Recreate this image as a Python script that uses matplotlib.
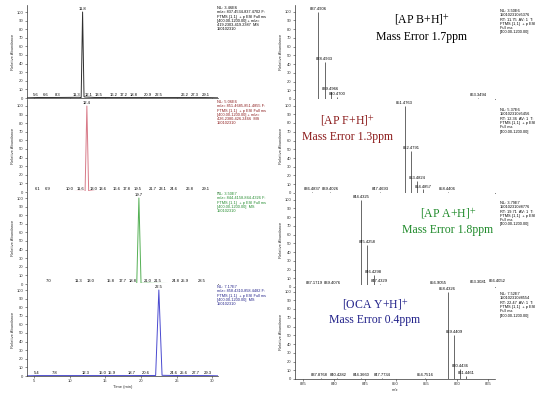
import matplotlib.pyplot as plt
import numpy as np

plt.rcParams['font.family'] = ['Liberation Sans', 'DejaVu Sans']
plt.rcParams['mathtext.fontset'] = 'stix'

# ---------- chromatograms (time in min, relative abundance) ----------
chrom_t = [
    [4.0, 5.6, 6.6, 8.3, 11.3, 11.6, 11.8, 12.0, 12.1, 13.5, 16.2, 17.2, 18.8, 20.9, 22.5, 26.2, 27.3, 29.1, 30.8],
    [4.0, 6.1, 6.9, 10.0, 11.6, 12.15, 12.4, 12.65, 13.0, 13.6, 16.6, 17.8, 19.5, 21.7, 23.1, 24.6, 26.8, 29.1, 30.8],
    [4.0, 7.0, 11.3, 13.0, 15.8, 17.7, 18.8, 19.4, 19.7, 20.0, 21.0, 21.5, 24.8, 25.9, 28.5, 30.8],
    [4.0, 5.4, 7.8, 12.3, 15.0, 15.9, 18.7, 20.6, 22.05, 22.5, 22.95, 24.6, 25.6, 27.7, 29.3, 30.8],
]
chrom_i = [
    [0.2, 0.6, 0.6, 0.6, 0.8, 0.5, 100, 1.5, 1.2, 0.6, 0.5, 0.5, 0.5, 0.5, 0.5, 0.5, 0.5, 0.5, 0.2],
    [0.2, 0.5, 0.5, 0.5, 0.8, 0.6, 100, 1.5, 1.2, 0.6, 0.5, 0.5, 0.5, 0.5, 0.5, 0.5, 0.5, 0.5, 0.2],
    [0.2, 0.5, 0.5, 0.5, 0.5, 0.5, 0.6, 0.6, 100, 0.8, 1.0, 0.8, 0.5, 0.5, 0.5, 0.2],
    [0.2, 0.5, 0.5, 0.5, 0.5, 0.5, 0.5, 0.6, 0.6, 100, 0.8, 0.6, 0.5, 0.5, 0.5, 0.2],
]
chrom_peak = [11.8, 12.4, 19.7, 22.5]
chrom_minor = [
    [5.6, 6.6, 8.3, 11.3, 12.1, 13.5, 16.2, 17.2, 18.8, 20.9, 22.5, 26.2, 27.3, 29.1],
    [6.1, 6.9, 10.0, 11.6, 13.0, 13.6, 16.6, 17.8, 19.5, 21.7, 23.1, 24.6, 26.8, 29.1],
    [7.0, 11.3, 13.0, 15.8, 17.7, 18.8, 21.0, 21.5, 24.8, 25.9, 28.5],
    [5.4, 7.8, 12.3, 15.0, 15.9, 18.7, 20.6, 24.6, 25.6, 27.7, 29.3],
]
chrom_info = [
    "NL: 3.46E6\nm/z= 837.4534-837.4702 F:\nFTMS {1,1}  + p ESI Full ms\n[400.00-1200.00] + m/z=\n419.2303-419.2387  MS\n150102310",
    "NL: 5.06E6\nm/z= 851.4685-851.4855 F:\nFTMS {1,1}  + p ESI Full ms\n[400.00-1200.00] + m/z=\n426.2380-426.2466  MS\n150102310",
    "NL: 3.50E7\nm/z= 844.4158-844.4326 F:\nFTMS {1,1}  + p ESI Full ms\n[400.00-1200.00]  MS\n150102310",
    "NL: 7.17E7\nm/z= 858.4310-858.4482 F:\nFTMS {1,1}  + p ESI Full ms\n[400.00-1200.00]  MS\n150102310",
]

# ---------- mass spectra (m/z, relative abundance) ----------
spec_mz = [
    [837.4906, 838.4933, 839.4966, 840.4700, 863.3494],
    [836.4837, 839.4026, 847.4693, 851.4763, 852.4791, 853.4824, 854.4857, 858.4406],
    [837.1719, 839.4076, 844.4325, 845.4258, 846.4298, 847.4329, 856.9055, 863.3081, 866.4052],
    [837.8768, 840.4282, 844.3660, 847.7734, 854.7516, 858.4326, 859.4409, 860.4436, 861.4461],
]
spec_rel = [
    [100, 42, 8, 2.5, 1.2],
    [1.2, 1.2, 1.2, 100, 48, 14, 4, 1.2],
    [1.2, 1.2, 100, 48, 14, 4, 1.5, 2.5, 3],
    [1.2, 1.2, 1.2, 1.2, 1.2, 100, 50, 12, 3.5],
]
spec_info = [
    "NL: 3.50E6\n150102310#5376\nRT: 11.75  AV: 1  T:\nFTMS {1,1}  + p ESI\nFull ms\n[400.00-1200.00]",
    "NL: 5.37E6\n150102310#5456\nRT: 12.36  AV: 1  T:\nFTMS {1,1}  + p ESI\nFull ms\n[400.00-1200.00]",
    "NL: 3.79E7\n150102310#8776\nRT: 19.71  AV: 1  T:\nFTMS {1,1}  + p ESI\nFull ms\n[400.00-1200.00]",
    "NL: 7.52E7\n150102310#8554\nRT: 22.47  AV: 1  T:\nFTMS {1,1}  + p ESI\nFull ms\n[400.00-1200.00]",
]
ion_names = ['[AP B+H]', '[AP F+H]', '[AP A+H]', '[OCA Y+H]']
mass_errors = ['Mass Error 1.7ppm', 'Mass Error 1.3ppm', 'Mass Error 1.8ppm', 'Mass Error 0.4ppm']

line_colors = ['#303030', '#d87a88', '#55b055', '#4a4ad0']
text_colors = ['#000000', '#8b1a1a', '#1f8a2a', '#22228a']
ion_pos = [(422, 20, 37), (347, 121, 137), (448, 214, 230), (375, 305, 320)]

W, H = 550, 399
fig = plt.figure(figsize=(5.5, 3.99), dpi=100)
fs = 3.0


def add_ax(x0, x1, base, scale):
    top = base - scale * 1.08
    return fig.add_axes([x0 / W, 1 - base / H, (x1 - x0) / W, (base - top) / H])


def style(ax):
    for s in ['top', 'right']:
        ax.spines[s].set_visible(False)
    for s in ['left', 'bottom']:
        ax.spines[s].set_linewidth(0.5)
        ax.spines[s].set_color('#333333')
    ax.set_ylim(0, 108)
    ax.set_yticks(np.arange(0, 101, 10))
    ax.tick_params(labelsize=fs, length=1.5, width=0.4, pad=1, colors='#333333')
    ax.set_ylabel('Relative Abundance', fontsize=fs, labelpad=1, color='#333333')


def spread(xs, peak, gap=1.35, peakgap=0.9):
    # push minor-peak labels away from the main peak so they don't collide
    out = {}
    left = sorted([x for x in xs if x < peak], reverse=True)
    right = sorted([x for x in xs if x >= peak])
    prev, g = peak, peakgap
    for x in left:
        prev = min(x, prev - g)
        out[x] = prev
        g = gap
    prev, g = peak, peakgap
    for x in right:
        prev = max(x, prev + g)
        out[x] = prev
        g = gap
    return out


def spread_pairs(xs, gap=3.0):
    # nudge neighbouring baseline labels apart symmetrically
    pos = list(xs)
    for k in range(1, len(pos)):
        d = pos[k] - pos[k - 1]
        if d < gap:
            pos[k - 1] -= (gap - d) / 2
            pos[k] += (gap - d) / 2
    return pos


left_base = [98, 192, 284, 376]
right_base = [99, 193, 287, 379]

for i in range(4):
    # chromatogram
    ax = add_ax(27, 218, left_base[i], 86)
    style(ax)
    ax.plot(chrom_t[i], chrom_i[i], color=line_colors[i], lw=0.7)
    ax.set_xlim(4, 30.8)
    ax.set_xticks(np.arange(5, 31, 5))
    ax.text(chrom_peak[i], 101, f'{chrom_peak[i]:.1f}', fontsize=fs, ha='center', va='bottom')
    pos = spread(chrom_minor[i], chrom_peak[i])
    for t in chrom_minor[i]:
        ax.text(pos[t], 1.5, f'{t:.1f}', fontsize=fs, ha='center', va='bottom')
    if i < 3:
        ax.tick_params(axis='x', labelbottom=False)
    else:
        ax.set_xlabel('Time (min)', fontsize=fs, labelpad=1, color='#333333')
    fig.text(217 / W, 1 - [6, 100, 192, 285][i] / H, chrom_info[i], fontsize=2.8,
             color=text_colors[i], ha='left', va='top', linespacing=1.1)

    # spectrum
    ax = add_ax(295, 495, right_base[i], 87.5)
    style(ax)
    ax.vlines(spec_mz[i], 0, spec_rel[i], color='#505050', lw=0.6)
    ax.set_xlim(833.7, 866.1)
    ax.set_xticks(np.arange(835, 866, 5))
    small = [m for m, r in zip(spec_mz[i], spec_rel[i]) if r < 2]
    small_pos = dict(zip(small, spread_pairs(small)))
    for m, r in zip(spec_mz[i], spec_rel[i]):
        ax.text(small_pos.get(m, m), r + 1, f'{m:.4f}', fontsize=fs, ha='center', va='bottom')
    if i < 3:
        ax.tick_params(axis='x', labelbottom=False)
    else:
        ax.set_xlabel('m/z', fontsize=fs, labelpad=1, color='#333333')
    fig.text(500 / W, 1 - [9, 108, 201, 292][i] / H, spec_info[i], fontsize=2.8,
             color='black', ha='left', va='top', linespacing=1.1)

    cx, y1, y2 = ion_pos[i]
    fig.text(cx / W, 1 - y1 / H, ion_names[i] + r'$^{+}$', fontsize=8.5,
             family='Liberation Serif', color=text_colors[i], ha='center', va='center')
    fig.text(cx / W, 1 - y2 / H, mass_errors[i], fontsize=8.5,
             family='Liberation Serif', color=text_colors[i], ha='center', va='center')

fig.savefig('out.png', dpi=100)
